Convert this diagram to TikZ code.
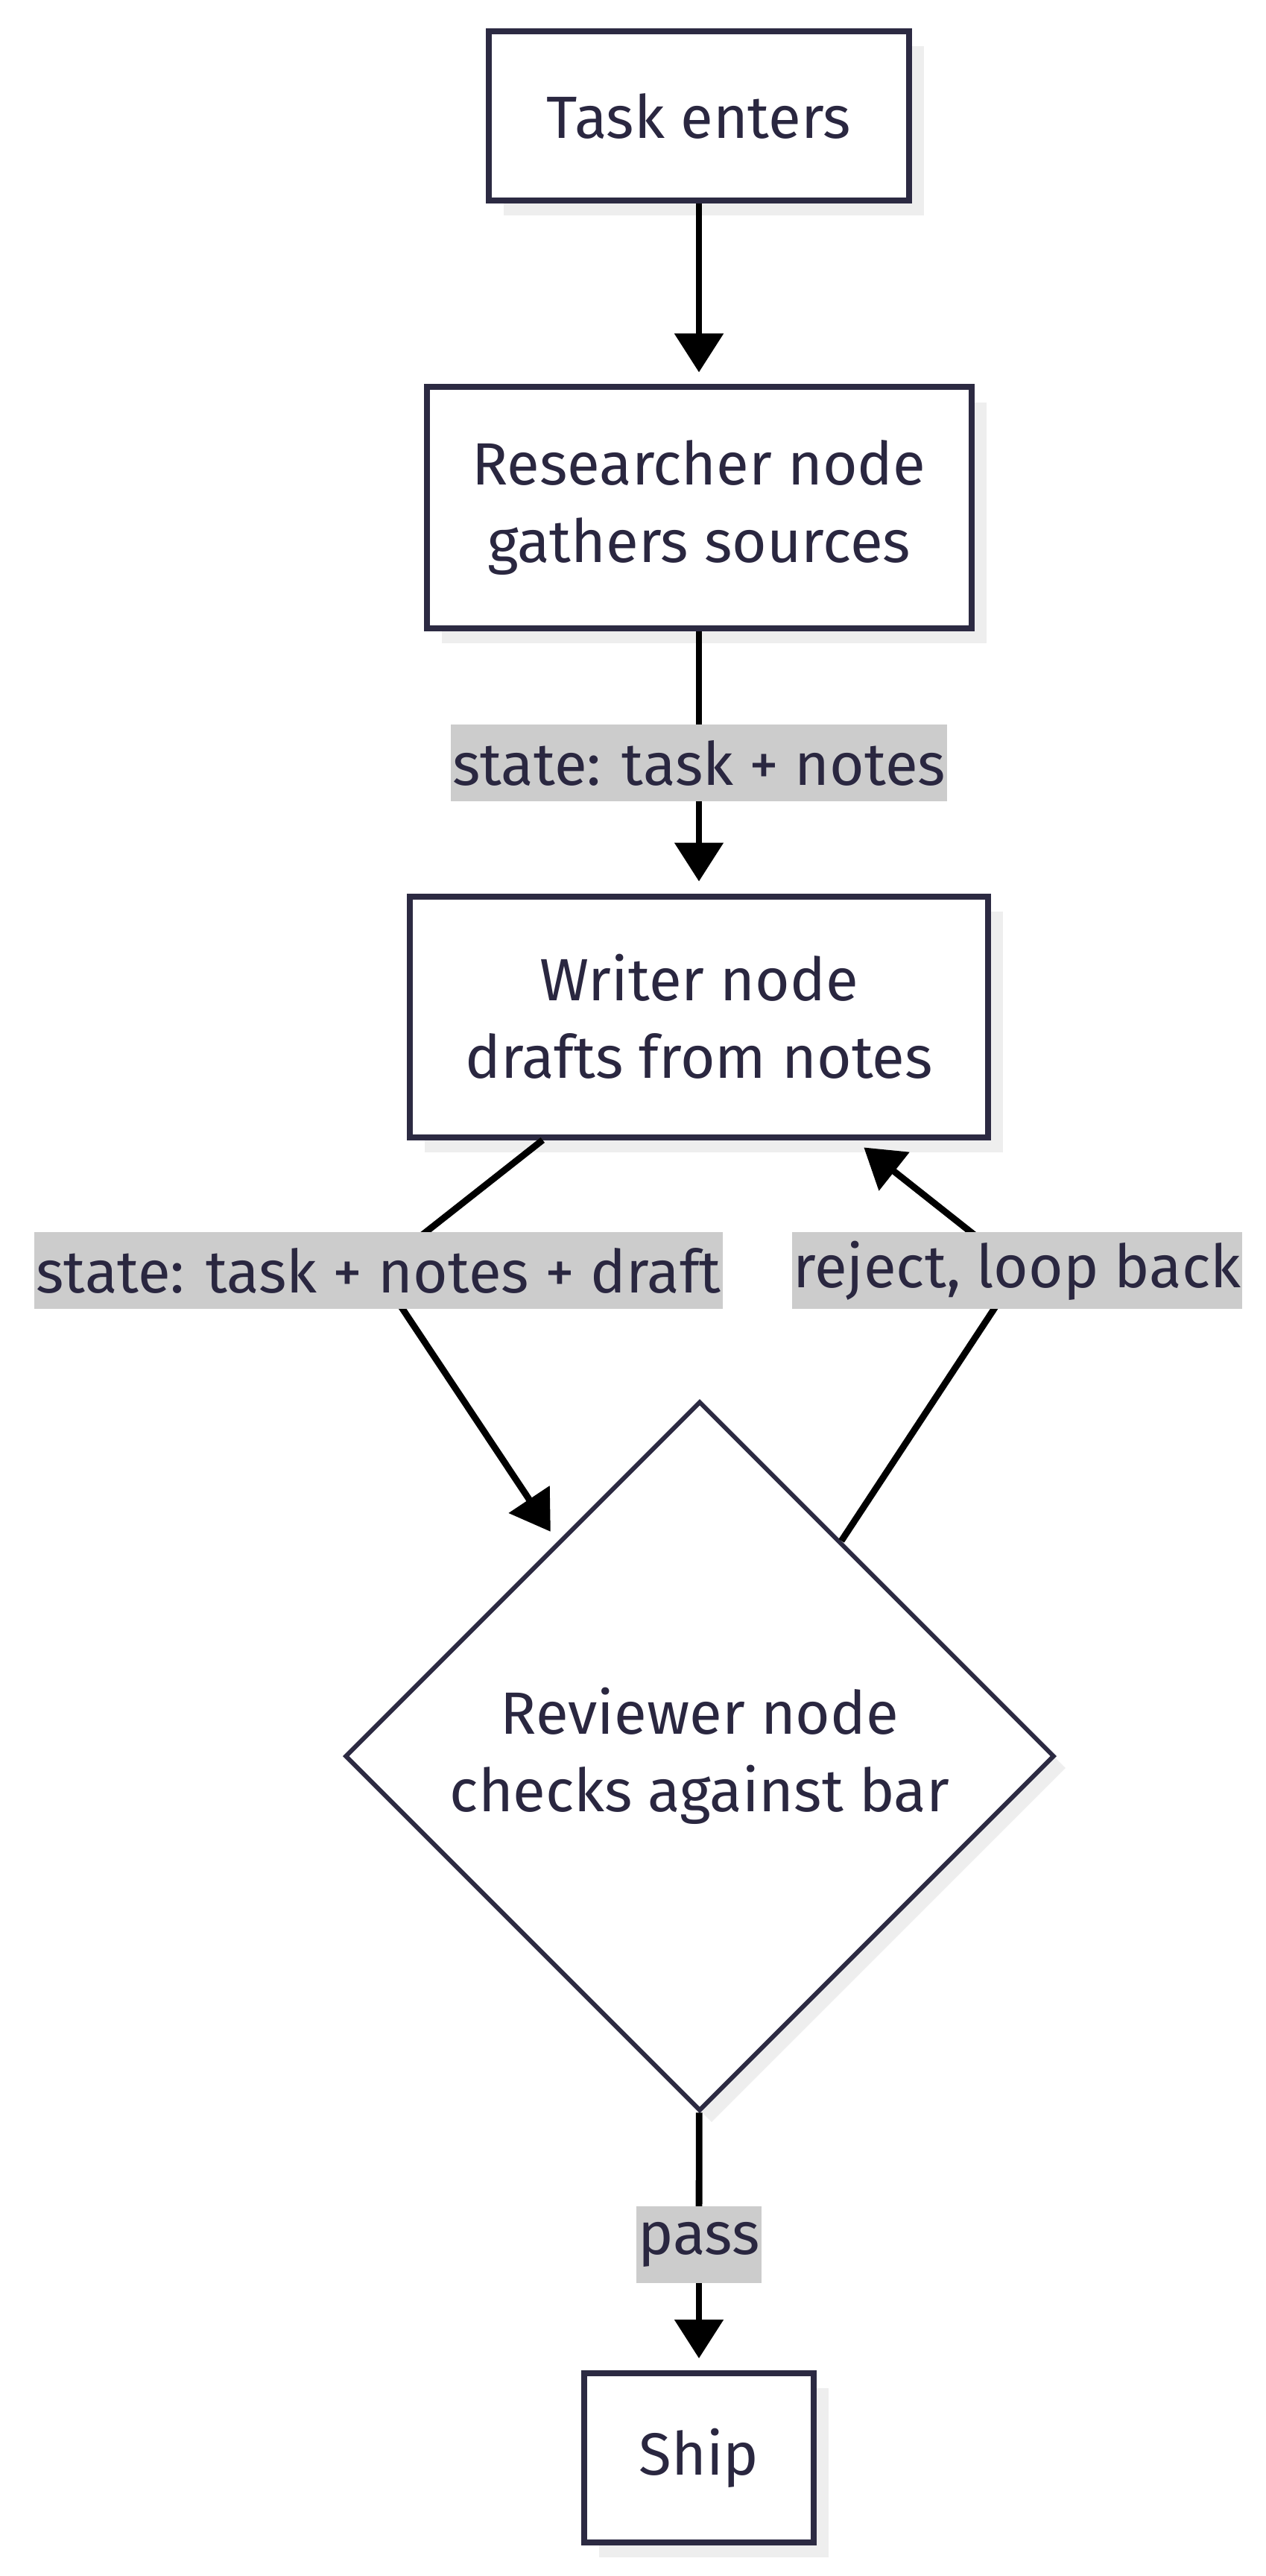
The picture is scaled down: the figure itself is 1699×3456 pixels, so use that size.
\documentclass[tikz,border=0pt]{standalone}
\usepackage{fontspec}
\setmainfont{Fira Sans}
\usetikzlibrary{shapes.geometric,arrows.meta,shadows}
\definecolor{ink}{RGB}{42,39,64}
\definecolor{edgec}{RGB}{44,42,66}
\definecolor{labbg}{RGB}{204,204,204}
\definecolor{shad}{RGB}{238,238,238}
\begin{document}
\begin{tikzpicture}[x=0.25pt,y=-0.25pt,
  txt/.style={text=ink,font=\fontsize{20}{26}\selectfont,align=center},
  box/.style={txt,draw=edgec,line width=2pt,fill=white,rectangle,inner sep=0pt,
    drop shadow={shadow xshift=5pt,shadow yshift=-5pt,fill=shad,opacity=1}},
  decision/.style={txt,draw=edgec,line width=1.5pt,fill=white,diamond,aspect=1,inner sep=0pt,
    minimum width=238pt,minimum height=238pt,
    drop shadow={shadow xshift=4pt,shadow yshift=-4pt,fill=shad,opacity=1}},
  lab/.style={txt,fill=labbg,inner xsep=0.5pt,inner ysep=0pt,minimum height=25.75pt},
  conn/.style={draw=black,line width=2.2pt},
  arr/.style={conn,-{Triangle[length=13pt,width=16pt]},shorten >=4pt}]
\useasboundingbox (0,0) rectangle (1699,3456);
\fill[white] (0,0) rectangle (1699,3456);
% nodes
\node[box,minimum width=141pt,minimum height=56.75pt] (task) at (938,155.5) {Task enters};
\node[box,minimum width=182.75pt,minimum height=80.75pt] (res) at (938,681) {Researcher node\\gathers sources};
\node[box,minimum width=194pt,minimum height=80.75pt] (wri) at (938,1364) {Writer node\\drafts from notes};
\node[decision] (rev) at (939,2356) {Reviewer node\\checks against bar};
\node[box,minimum width=77pt,minimum height=56.75pt] (ship) at (938,3297.5) {Ship};
% label anchors
\coordinate (c1) at (938,1023.5);
\coordinate (c2) at (506,1704.5);
\coordinate (c3) at (1368,1704.5);
\coordinate (c4) at (938,3011);
% connectors
\draw[arr] (task) -- (res);
\draw[conn] (res) -- (c1);
\draw[arr] (c1) -- (wri);
\draw[conn] (wri) -- (c2);
\draw[arr] (c2) -- (rev);
\draw[conn] (rev) -- (c3);
\draw[arr] (c3) -- (wri);
\draw[conn] (rev) -- (c4);
\draw[arr] (c4) -- (ship);
% labels
\node[lab] (l1) at (c1) {state: task + notes};
\node[lab] (l2) at (508,1704.5) {state: task + notes + draft};
\node[lab] (l3) at (1365,1704.5) {reject, loop back};
\node[lab] (l4) at (c4) {pass};
\end{tikzpicture}
\end{document}
